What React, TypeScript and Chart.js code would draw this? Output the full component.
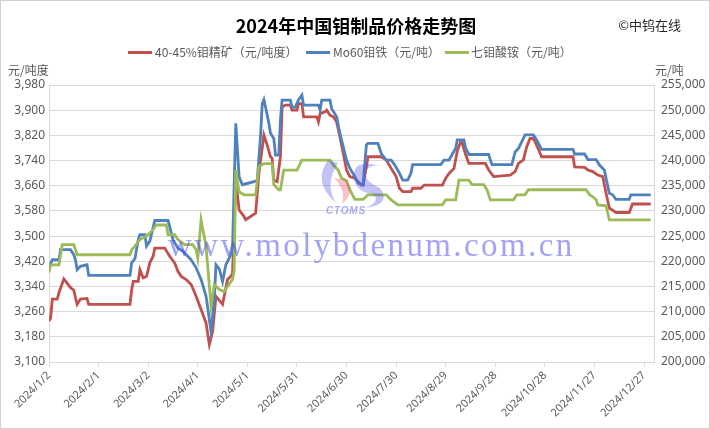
import React, { useEffect, useRef } from "react";
import { Chart, registerables } from "chart.js";

Chart.register(...registerables);

const YEAR = 2024;

// x-axis tick dates (every 30 days) and their labels
const tickDates = ["1/2", "2/1", "3/2", "4/1", "5/1", "5/31", "6/30", "7/30", "8/29", "9/28", "10/28", "11/27", "12/27"];
const tickLabels = ["2024/1/2", "2024/2/1", "2024/3/2", "2024/4/1", "2024/5/1", "2024/5/31", "2024/6/30", "2024/7/30", "2024/8/29", "2024/9/28", "2024/10/28", "2024/11/27", "2024/12/27"];

// 40-45% molybdenum concentrate (yuan / ton-degree) — left axis
const concDates = ["1/2", "1/3", "1/4", "1/7", "1/8", "1/11", "1/15", "1/17", "1/18", "1/19", "1/21", "1/25", "1/26", "2/20", "2/21", "2/22", "2/25", "2/26", "2/28", "3/1", "3/3", "3/5", "3/6", "3/12", "3/15", "3/18", "3/20", "3/22", "3/25", "3/28", "3/31", "4/3", "4/6", "4/8", "4/10", "4/12", "4/16", "4/19", "4/21", "4/22", "4/24", "4/26", "4/29", "4/30", "5/6", "5/8", "5/11", "5/13", "5/15", "5/16", "5/17", "5/19", "5/21", "5/22", "5/24", "5/27", "5/28", "5/31", "6/1", "6/3", "6/4", "6/12", "6/13", "6/14", "6/17", "6/18", "6/20", "6/22", "6/24", "6/26", "6/28", "6/30", "7/2", "7/5", "7/7", "7/9", "7/10", "7/12", "7/13", "7/21", "7/24", "7/27", "7/30", "8/1", "8/3", "8/8", "8/9", "8/14", "8/16", "8/27", "8/29", "8/31", "9/3", "9/5", "9/7", "9/8", "9/10", "9/12", "9/22", "9/24", "9/27", "10/7", "10/10", "10/12", "10/15", "10/17", "10/19", "10/21", "10/23", "10/26", "11/14", "11/15", "11/21", "11/23", "11/26", "11/29", "12/2", "12/4", "12/6", "12/10", "12/18", "12/20", "12/31"];
const concValues = [3230, 3240, 3300, 3300, 3320, 3364, 3336, 3328, 3305, 3283, 3300, 3302, 3283, 3283, 3330, 3356, 3356, 3393, 3367, 3372, 3415, 3436, 3462, 3462, 3436, 3415, 3388, 3372, 3362, 3346, 3309, 3267, 3224, 3156, 3198, 3309, 3283, 3362, 3372, 3380, 3680, 3583, 3562, 3552, 3573, 3699, 3821, 3789, 3752, 3747, 3678, 3673, 3752, 3910, 3916, 3916, 3900, 3900, 3921, 3921, 3879, 3879, 3863, 3889, 3895, 3900, 3884, 3879, 3863, 3815, 3763, 3710, 3689, 3684, 3673, 3662, 3662, 3720, 3752, 3752, 3742, 3715, 3689, 3652, 3641, 3641, 3652, 3652, 3662, 3662, 3684, 3699, 3715, 3770, 3800, 3795, 3760, 3731, 3731, 3710, 3689, 3694, 3705, 3731, 3742, 3784, 3810, 3810, 3789, 3752, 3752, 3720, 3718, 3710, 3705, 3694, 3689, 3636, 3589, 3575, 3575, 3602, 3602];

// Mo60 ferromolybdenum (yuan / ton) — right axis
const feMoDates = ["1/2", "1/3", "1/4", "1/8", "1/9", "1/15", "1/17", "1/18", "1/19", "1/21", "1/25", "1/26", "2/20", "2/21", "2/23", "2/25", "2/26", "2/29", "3/1", "3/3", "3/6", "3/14", "3/15", "3/17", "3/20", "3/23", "3/28", "3/31", "4/3", "4/6", "4/9", "4/11", "4/12", "4/14", "4/16", "4/18", "4/20", "4/22", "4/24", "4/26", "4/28", "5/5", "5/7", "5/9", "5/10", "5/11", "5/12", "5/14", "5/15", "5/17", "5/18", "5/20", "5/21", "5/22", "5/27", "5/28", "5/30", "6/1", "6/3", "6/4", "6/13", "6/14", "6/15", "6/20", "6/21", "6/24", "6/26", "6/28", "6/30", "7/2", "7/5", "7/7", "7/10", "7/12", "7/13", "7/19", "7/21", "7/24", "7/27", "7/29", "8/1", "8/3", "8/6", "8/8", "8/9", "8/26", "8/28", "8/31", "9/2", "9/4", "9/5", "9/9", "9/10", "9/12", "9/24", "9/25", "9/26", "10/8", "10/10", "10/12", "10/15", "10/16", "10/21", "10/23", "10/26", "11/14", "11/15", "11/21", "11/23", "11/28", "11/30", "12/3", "12/4", "12/6", "12/8", "12/10", "12/18", "12/19", "12/31"];
const feMoValues = [218500, 219500, 220300, 220300, 222300, 222300, 221300, 220300, 218300, 219000, 219300, 217200, 217200, 219700, 220500, 224300, 225300, 225300, 223000, 224000, 228100, 228100, 226900, 224300, 222600, 222000, 220300, 218700, 216400, 213100, 206100, 212400, 219300, 218500, 216000, 219300, 220600, 222300, 247400, 236800, 235200, 235800, 236100, 245000, 251300, 252100, 250600, 247400, 245400, 244400, 241100, 241100, 248000, 252000, 252000, 250600, 250600, 252100, 253000, 251000, 251000, 250000, 252000, 252000, 250300, 248700, 245400, 242700, 240100, 238500, 236800, 235500, 235200, 243100, 243400, 243400, 241400, 240100, 240100, 239200, 237500, 236100, 236100, 237500, 239200, 239200, 240100, 240100, 241300, 242400, 244100, 244100, 242500, 241200, 241200, 240100, 239200, 239200, 241700, 242400, 244400, 245100, 245100, 244100, 242200, 242200, 241300, 241300, 240200, 240200, 239100, 238100, 236500, 233500, 233200, 232300, 232300, 233200, 233200];

// Ammonium heptamolybdate (yuan / ton) — right axis
const ahmDates = ["1/2", "1/3", "1/8", "1/10", "1/17", "1/19", "2/20", "2/21", "2/23", "2/26", "3/1", "3/4", "3/7", "3/13", "3/14", "3/18", "3/20", "3/24", "3/29", "3/31", "4/1", "4/3", "4/6", "4/9", "4/11", "4/14", "4/17", "4/19", "4/22", "4/23", "4/24", "4/26", "4/29", "5/6", "5/8", "5/11", "5/16", "5/17", "5/20", "5/21", "5/23", "5/31", "6/3", "6/20", "6/22", "6/25", "6/27", "6/30", "7/2", "7/5", "7/10", "7/13", "7/24", "7/27", "7/31", "8/27", "8/29", "9/4", "9/6", "9/12", "9/14", "9/21", "9/23", "9/25", "10/9", "10/11", "10/16", "10/18", "11/22", "11/24", "11/26", "11/28", "11/29", "12/4", "12/6", "12/31"];
const ahmValues = [217800, 219300, 219300, 223300, 223300, 221300, 221300, 222300, 223000, 224300, 225000, 225900, 227200, 227200, 225300, 225300, 224300, 223300, 223300, 222300, 220600, 228200, 223000, 211100, 215400, 214400, 214000, 215000, 216400, 218000, 238100, 233800, 233200, 233200, 238800, 239400, 239400, 235200, 234200, 234200, 238100, 238100, 240100, 240100, 239100, 238100, 236500, 236000, 234200, 232300, 232300, 233200, 233200, 232200, 231200, 231200, 232200, 232200, 236100, 236100, 235200, 235200, 234200, 232200, 232200, 233200, 233200, 234200, 234200, 233200, 232800, 232200, 231200, 231000, 228200, 228200];

const seriesNames = ["40-45%钼精矿（元/吨度）", "Mo60钼铁（元/吨）", "七钼酸铵（元/吨）"];
const seriesColors = ["#C0504D", "#4F81BD", "#9BBB59"];

const dayOf = (md: string) => {
  const [m, d] = md.split("/").map(Number);
  return (Date.UTC(YEAR, m - 1, d) - Date.UTC(YEAR, 0, 2)) / 86400000;
};
const toPoints = (dates: string[], vals: number[]) => dates.map((d, i) => ({ x: dayOf(d), y: vals[i] }));

const CJK = '"Noto Sans CJK SC", "Noto Sans", sans-serif';
const TICK_FONT = { family: '"Noto Sans", "DejaVu Sans", sans-serif', size: 12 };

export default function App() {
  const ref = useRef<HTMLCanvasElement | null>(null);

  useEffect(() => {
    if (!ref.current) return;
    const chart = new Chart(ref.current, {
      type: "line",
      data: {
        datasets: [
          { label: seriesNames[0], data: toPoints(concDates, concValues), borderColor: seriesColors[0], backgroundColor: seriesColors[0], yAxisID: "yL", order: 3 },
          { label: seriesNames[1], data: toPoints(feMoDates, feMoValues), borderColor: seriesColors[1], backgroundColor: seriesColors[1], yAxisID: "yR", order: 2 },
          { label: seriesNames[2], data: toPoints(ahmDates, ahmValues), borderColor: seriesColors[2], backgroundColor: seriesColors[2], yAxisID: "yR", order: 1 },
        ],
      },
      options: {
        responsive: false,
        animation: false,
        layout: { padding: { top: 85, left: 0, right: 0, bottom: 0 }, autoPadding: false },
        elements: { point: { radius: 0 }, line: { borderWidth: 2.8, tension: 0 } },
        plugins: { legend: { display: false }, title: { display: false }, tooltip: { enabled: false } },
        scales: {
          x: {
            type: "linear",
            min: 0,
            max: 366,
            afterBuildTicks: (s: any) => { s.ticks = tickDates.map((d) => ({ value: dayOf(d) })); },
            afterFit: (s: any) => { s.height = 67; },
            grid: { drawOnChartArea: false, drawTicks: true, tickLength: 5, color: "#d9d9d9" },
            border: { display: true, color: "#d9d9d9" },
            ticks: {
              autoSkip: false,
              minRotation: 45,
              maxRotation: 45,
              padding: 2,
              color: "#595959",
              font: { family: '"Noto Sans", "DejaVu Sans", sans-serif', size: 11 },
              callback: (_v: any, i: number) => tickLabels[i],
            },
          },
          yL: {
            type: "linear",
            position: "left",
            min: 3100,
            max: 3980,
            afterFit: (s: any) => { s.width = 49; },
            grid: { color: "#d9d9d9", drawTicks: false },
            border: { display: true, color: "#d9d9d9" },
            ticks: { stepSize: 80, padding: 4, color: "#595959", font: TICK_FONT, callback: (v: any) => Number(v).toLocaleString("en-US") },
          },
          yR: {
            type: "linear",
            position: "right",
            min: 200000,
            max: 255000,
            afterFit: (s: any) => { s.width = 56; },
            grid: { drawOnChartArea: false, drawTicks: false },
            border: { display: true, color: "#d9d9d9" },
            ticks: { stepSize: 5000, padding: 7, color: "#595959", font: TICK_FONT, callback: (v: any) => Number(v).toLocaleString("en-US") },
          },
        },
      } as any,
    });
    return () => chart.destroy();
  }, []);

  const abs = (s: React.CSSProperties): React.CSSProperties => ({ position: "absolute", whiteSpace: "nowrap", ...s });
  const legendX = [[128, 155], [306, 333], [445, 471]];

  return (
    <div style={{ position: "fixed", left: 0, top: 0, width: 710, height: 429, background: "#fff", overflow: "hidden" }}>
      <canvas ref={ref} width={710} height={429} style={{ position: "absolute", left: 0, top: 0, width: 710, height: 429 }} />
      <div style={abs({ left: 0, top: 14, width: 712, height: 22, lineHeight: "22px", textAlign: "center", fontFamily: CJK, fontWeight: 700, fontSize: 18, color: "#000" })}>
        2024年中国钼制品价格走势图
      </div>
      <div style={abs({ right: 29, top: 16, height: 18, lineHeight: "18px", fontFamily: CJK, fontSize: 13, color: "#262626" })}>©中钨在线</div>
      {seriesNames.map((n, i) => (
        <React.Fragment key={n}>
          <div style={abs({ left: legendX[i][0], top: 51, width: 24, height: 3, background: seriesColors[i] })} />
          <div style={abs({ left: legendX[i][1], top: 44, height: 16, lineHeight: "16px", fontFamily: CJK, fontSize: 12, color: "#595959" })}>{n}</div>
        </React.Fragment>
      ))}
      <div style={abs({ left: 8, top: 62, height: 16, lineHeight: "16px", fontFamily: CJK, fontSize: 12, color: "#595959" })}>元/吨度</div>
      <div style={abs({ left: 655, top: 62, height: 16, lineHeight: "16px", fontFamily: CJK, fontSize: 12, color: "#595959" })}>元/吨</div>
      <svg width={710} height={429} style={{ position: "absolute", left: 0, top: 0, pointerEvents: "none" }}>
        <path d="M 328 160 Q 312 182 336 203 Q 324 184 338 163 Z" fill="rgba(80,80,230,0.35)" />
        <path d="M 334 178 Q 346 190 342 204 Q 356 192 346 180 Z" fill="rgba(240,80,100,0.35)" />
        <path d="M 380 166 Q 352 158 354 178 Q 356 192 372 194 Q 382 200 366 208 Q 392 204 380 188 Q 362 180 366 170 Q 372 164 380 166 Z" fill="rgba(80,80,230,0.35)" />
      </svg>
      <div style={abs({ left: 326, top: 205, height: 12, lineHeight: "12px", fontFamily: '"Liberation Sans", sans-serif', fontStyle: "italic", fontWeight: 700, fontSize: 10, letterSpacing: 0.8, color: "rgba(90,90,230,0.5)", pointerEvents: "none" })}>CTOMS</div>
      <div style={abs({ left: 168, top: 229, height: 33, lineHeight: "33px", fontFamily: '"Liberation Serif", serif', fontSize: 33, letterSpacing: 2.4, color: "rgba(70,70,240,0.5)", pointerEvents: "none" })}>
        www.molybdenum.com.cn
      </div>
      <div style={abs({ left: 0, top: 0, width: 710, height: 429, boxSizing: "border-box", border: "1px solid #d0d0d0", pointerEvents: "none" })} />
    </div>
  );
}
